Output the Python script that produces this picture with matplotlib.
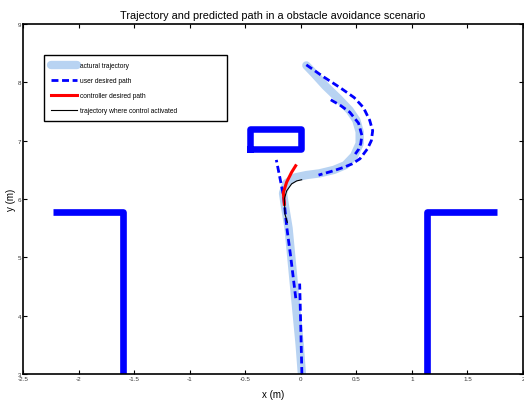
import matplotlib
matplotlib.use('Agg')
import matplotlib.pyplot as plt

plt.rcParams['font.family'] = ['Liberation Sans', 'DejaVu Sans']

# 环境障碍物
left_wall_x = [-2.23, -1.60, -1.60]
left_wall_y = [5.78, 5.78, 2.9]
right_wall_x = [1.77, 1.14, 1.14]
right_wall_y = [5.78, 5.78, 2.9]
box_x = [-0.46, 0.0, 0.0, -0.46, -0.46]
box_y = [6.86, 6.86, 7.2, 7.2, 6.86]

# 实际轨迹
actual_x = [0.01, -0.01, -0.035, -0.06, -0.085, -0.11, -0.14, -0.16, -0.13, -0.05,
            0.05, 0.17, 0.30, 0.40, 0.48, 0.53, 0.53, 0.50, 0.44, 0.34, 0.22, 0.12, 0.05]
actual_y = [3.0, 3.5, 4.0, 4.5, 5.0, 5.5, 5.85, 6.1, 6.27, 6.37,
            6.41, 6.44, 6.5, 6.58, 6.74, 6.95, 7.15, 7.35, 7.52, 7.72, 7.94, 8.15, 8.29]

# 用户期望路径（多段）
user_a_x = [0.01, 0.0, -0.01]
user_a_y = [3.0, 3.8, 4.55]
user_b_x = [-0.045, -0.09, -0.125, -0.155, -0.22]
user_b_y = [4.3, 5.0, 5.5, 6.05, 6.67]
user_c_x = [0.05, 0.2, 0.353, 0.48, 0.563, 0.62, 0.647, 0.635, 0.60, 0.533, 0.46, 0.383, 0.27, 0.16]
user_c_y = [8.30, 8.1, 7.91, 7.74, 7.57, 7.35, 7.17, 7.0, 6.86, 6.69, 6.6, 6.54, 6.47, 6.41]
user_d_x = [0.27, 0.36, 0.44, 0.52, 0.55, 0.54, 0.52, 0.49]
user_d_y = [7.70, 7.60, 7.49, 7.3, 7.09, 6.95, 6.85, 6.77]

# 控制器期望路径
ctrl_x = [-0.148, -0.157, -0.127, -0.082, -0.046]
ctrl_y = [5.91, 6.11, 6.29, 6.46, 6.57]

# 控制激活时的轨迹
active_x = [-0.121, -0.142, -0.148, -0.127, -0.082, -0.037, 0.008]
active_y = [5.60, 5.74, 6.0, 6.14, 6.26, 6.31, 6.33]

light_blue = '#b8d3f2'

fig = plt.figure(figsize=(5.24, 4.02), dpi=100)
ax = fig.add_axes([23 / 524, 27 / 402, 500 / 524, 350 / 402])

ax.plot(left_wall_x, left_wall_y, color='#0000ff', lw=4.8, solid_joinstyle='round', solid_capstyle='butt')
ax.plot(right_wall_x, right_wall_y, color='#0000ff', lw=4.8, solid_joinstyle='round', solid_capstyle='butt')
ax.plot(box_x, box_y, color='#0000ff', lw=4.7, solid_joinstyle='round')

ax.plot(actual_x, actual_y, color=light_blue, lw=6, solid_capstyle='round',
        label='actural trajectory')
dash = (2.5, 1.3)
ax.plot(user_a_x, user_a_y, color='#0000ff', lw=2, dashes=dash, label='user desired path')
ax.plot(user_b_x, user_b_y, color='#0000ff', lw=2, dashes=dash)
ax.plot(user_c_x, user_c_y, color='#0000ff', lw=2, dashes=dash)
ax.plot(user_d_x, user_d_y, color='#0000ff', lw=2, dashes=dash)
ax.plot(ctrl_x, ctrl_y, color='#ff0000', lw=2.2, label='controller desired path')
ax.plot(active_x, active_y, color='black', lw=0.8, label='trajectory where control activated')

ax.set_xlim(-2.5, 2.0)
ax.set_ylim(3, 9)
ax.set_xticks([-2.5, -2, -1.5, -1, -0.5, 0, 0.5, 1, 1.5, 2])
ax.set_xticklabels(['-2.5', '-2', '-1.5', '-1', '-0.5', '0', '0.5', '1', '1.5', '2'])
ax.set_yticks([3, 4, 5, 6, 7, 8, 9])
ax.tick_params(direction='in', length=3, width=0.8, labelsize=4.5, labelcolor='#333333',
               top=True, right=True, pad=1.5)
for s in ax.spines.values():
    s.set_linewidth(1.2)

ax.set_title('Trajectory and predicted path in a obstacle avoidance scenario', fontsize=7.8, pad=4)
ax.set_xlabel('x (m)', fontsize=7, labelpad=6)
ax.set_ylabel('y (m)', fontsize=7, labelpad=1)

leg = ax.legend(loc='upper left', bbox_to_anchor=(0.035, 0.73, 0.38, 0.19), mode='expand',
                fontsize=4.8, handlelength=4.0, labelspacing=1.2, borderpad=1.0,
                handletextpad=0.4, fancybox=False, edgecolor='black', framealpha=1)
leg.get_frame().set_linewidth(1.0)

fig.savefig('out.png', dpi=100)
